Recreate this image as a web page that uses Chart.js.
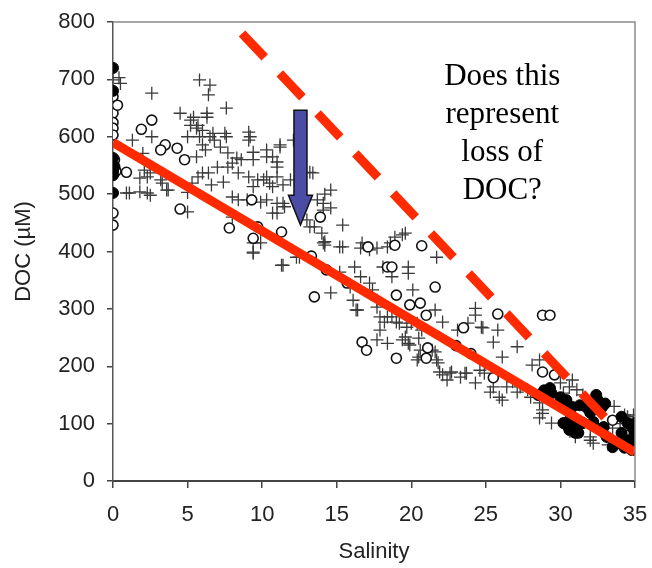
<!DOCTYPE html>
<html>
<head>
<meta charset="utf-8">
<script src="https://cdn.jsdelivr.net/npm/chart.js@4.4.1/dist/chart.umd.min.js"></script>
<style>
  html, body { margin: 0; padding: 0; background: #fff; }
  #wrap { width: 652px; height: 568px; }
</style>
</head>
<body>
<div id="wrap"><canvas id="chart" width="652" height="568"></canvas></div>
<script>
// salinity vs DOC samples: [salinity, DOC µM]
const crosses = [
  [0,699],[0.5,693],[0.4,703],[2.6,676],[4.5,641],[5.2,629],[1.3,594],[2.6,600],[2.1,542],[2.3,530],
  [3.3,519],[1.1,502],[2.5,498],[3.7,507],[5,503],[5,469],[1.8,528],
  [5.8,699],[6.5,690],[6.4,673],[7.6,650],[5.4,634],[6.3,634],[5.2,620],[5.7,620],[5.0,600],[5.8,600],
  [6.7,606],[7.6,600],[9.1,608],[9.1,594],[11.2,586],[12.1,594],[6.0,586],[7.2,582],[2.0,571],[2.5,537],
  [3.2,525],[3.6,507],[1.8,504],[0.9,502],[2.3,502],[5.3,519],[6.0,537],[7.0,547],[8.0,554],[9.4,560],
  [10.3,565],[11.0,547],[11.0,530],[11.9,525],[13.4,537],[9.4,513],[10.1,525],[10.7,513],[8.0,495],
  [9.0,490],[10.3,490],[11.4,484],[13.7,490],[11.0,467],[14.1,472],[13.2,443],[14.0,432],[9.9,437],
  [9.4,415],[9.4,397],[11.4,376],[12.5,390],[14.1,415],
  [6.3,641],[5.6,615],[6.0,611],[6.5,600],[6.8,594],[7.5,606],[9.2,600],[6.2,577],[7.7,572],[8.3,563],
  [8.6,560],[5.6,565],[9.4,573],[10.3,577],[11.2,582],[10.7,565],[11.0,556],[7.7,547],[8.4,537],[9.1,530],
  [9.7,525],[10.3,530],[10.5,519],[11.4,516],[5.7,530],[6.4,537],[6.6,516],[7.4,521],[8.4,490],[9.9,486],
  [11.0,484],[10.7,467],[11.5,478],[8.0,460],[9.9,415],[11.3,376],[9.4,399],
  [13.2,538],[14.6,507],[14.1,484],[14.6,476],[13.0,455],[13.5,443],[15.4,446],[14.2,417],[15.4,408],
  [16.7,415],[17.2,403],[12.3,390],[15.2,364],[16.6,356],[17.2,345],[15.9,338],[14.6,328],[16.4,298],
  [17.9,286],[17.7,315],[18.2,277],
  [14.2,500],[14.2,411],[15.2,408],[16.6,406],[17.7,406],[18.6,415],[19.4,429],[21.7,390],[16.2,373],
  [18.1,373],[19.8,373],
  [18.9,425],[19.6,432],[18.4,408],[19.8,362],[18.7,356],[20.1,333],[24.3,301],[21.6,298],[22.1,277],
  [18.7,286],[19.2,275],[20.0,275],[20.7,263],[19.6,251],[20.5,249],[21.4,228],[19.8,240],[21.8,206],
  [20.5,216],[22.7,190],[23.6,188],[22.1,185],[24.6,193],[24.3,171],[23.1,263],[23.8,275],[24.7,268],
  [16.1,315],[17.4,333],[16.3,298],[17.7,303],[18.4,286],[17.9,263],[19.0,277],[19.7,268],[20.4,275],
  [19.4,246],[19.9,237],[20.6,228],[21.6,225],[21.7,211],[20.4,211],[21.9,190],[22.6,188],[23.3,181],
  [22.4,176],[23.7,188],[17.7,246],[18.4,240],
  [24.8,267],[25.8,263],[25.5,242],[27.1,234],[26.1,216],[28.1,202],[24.9,188],[25.5,164],[26.4,164],
  [25.9,146],[25.3,155],[27.1,155],[28.0,146],[28.6,136],[28.8,118],[29.4,101],[28.6,110],[30.2,153],
  [30.6,164],[31.1,159],[26.8,173],[24.3,289],[28.6,211],[27.3,164],[27.8,159],[26.1,141],[28.8,124],
  [30.0,171],[30.8,176],
  [32.0,77],[32.2,66],[33.2,63],[34.9,115],[34.3,115],[33.5,92],[34.8,75],[31.0,77],[32.0,71],[33.1,77],
  [34.5,112],[35,94],[35,80],[34.6,88],[31.5,150],[32.2,140],[33.6,130],[34.0,100]
];

const openCircles = [
  [0,670],[0,641],[0,625],[0,615],[0,603],[0.1,560],[0,467],[0,446],[0.2,540],[0.9,538],[0.3,655],
  [1.9,613],[2.6,629],[3.5,586],[3.2,577],[4.3,580],[4.8,560],[4.5,474],[7.8,441],[9.3,490],[9.4,423],
  [9.7,443],[11.3,434],[13.9,460],[13.3,392],
  [17.1,408],[13.5,321],[14.3,368],[15.7,345],[18.4,373],
  [18.9,411],[20.7,410],[18.7,373],[21.6,338],
  [19.0,324],[19.9,307],[20.6,310],[21.0,289],[16.7,242],[17.0,228],[19.0,214],[21.1,232],[21.0,214],
  [23.5,267],[23.0,236],[24.0,222],[25.8,291],[25.5,180],[28.8,289],[29.3,289],[28.8,190],[29.6,185],
  [33.5,106]
];

const filledCircles = [
  [0,720],[0,680],[0,563],[0,540],[0,533],[0,502],[0.1,548],
  [29.4,153],[30.0,146],[30.4,136],[30.8,129],[30.2,101],[30.6,89],[31.1,106],[31.2,84],[29.3,162],
  [30.4,141],[31.3,132],[30.6,106],[30.4,98],[31.1,94],[31.5,101],[31.0,84],[32.5,141],[32.8,129],
  [32.0,119],[32.2,103],[32.9,94],[33.1,77],[31.8,127],[34.1,112],[34.5,101],[34.8,94],[34.1,84],
  [34.5,71],[34.9,68],[33.9,66],[34.3,58],[34.8,54],[33.5,59],[35,84],[35,101],[28.5,150],[28.9,158],
  [32.4,150],[33.0,135]
];

// observed mixing trend and the conservative (no-loss) line
const mixingLine = [[0, 590], [35, 50]];
const conservativeLine = [[8.65, 780], [33, 110]];

// downward arrow: salinity, top, start of head, tip (DOC)
const arrowSalinity = 12.57;
const arrowDoc = [646, 498, 446];

const question = ["Does this", "represent", "loss of", "DOC?"];
const questionAt = [26.1, 705];

const xTickValues = [0, 5, 10, 15, 20, 25, 30, 35];
const yTickValues = [0, 100, 200, 300, 400, 500, 600, 700, 800];

const toPts = arr => arr.map(([x, y]) => ({ x, y }));
const RED = '#ff2a00';
const axisFont = { family: "'Liberation Sans', Arial, sans-serif", size: 22 };

const annotations = {
  id: 'annotations',
  afterDraw(chart) {
    const { ctx, chartArea: a, scales: { x, y } } = chart;
    ctx.save();
    // grey frame on top and right
    ctx.strokeStyle = '#8a8a8a';
    ctx.lineWidth = 1.5;
    ctx.beginPath();
    ctx.moveTo(a.left, a.top);
    ctx.lineTo(a.right, a.top);
    ctx.lineTo(a.right, a.bottom);
    ctx.stroke();

    // blue arrow
    const cx = x.getPixelForValue(arrowSalinity);
    const top = y.getPixelForValue(arrowDoc[0]);
    const neck = y.getPixelForValue(arrowDoc[1]);
    const tip = y.getPixelForValue(arrowDoc[2]);
    ctx.beginPath();
    ctx.moveTo(cx - 6.5, top);
    ctx.lineTo(cx + 6.5, top);
    ctx.lineTo(cx + 6.5, neck);
    ctx.lineTo(cx + 12, neck);
    ctx.lineTo(cx, tip);
    ctx.lineTo(cx - 12, neck);
    ctx.lineTo(cx - 6.5, neck);
    ctx.closePath();
    ctx.fillStyle = '#4a4ca6';
    ctx.fill();
    ctx.strokeStyle = '#111';
    ctx.lineWidth = 1.5;
    ctx.stroke();

    // question text
    ctx.fillStyle = '#000';
    ctx.font = "31px 'Liberation Serif', 'Times New Roman', serif";
    ctx.textAlign = 'center';
    ctx.textBaseline = 'middle';
    const tx = x.getPixelForValue(questionAt[0]);
    const ty = y.getPixelForValue(questionAt[1]);
    question.forEach((line, i) => ctx.fillText(line, tx, ty + i * 38));
    ctx.restore();
  }
};

new Chart(document.getElementById('chart'), {
  type: 'scatter',
  data: {
    datasets: [
      {
        data: toPts(mixingLine),
        showLine: true,
        borderColor: RED,
        borderWidth: 9,
        pointRadius: 0,
        borderCapStyle: 'butt',
        order: 0
      },
      {
        data: toPts(conservativeLine),
        showLine: true,
        borderColor: RED,
        borderWidth: 9,
        borderDash: [33, 22],
        pointRadius: 0,
        borderCapStyle: 'butt',
        order: 1
      },
      {
        data: toPts(filledCircles),
        pointStyle: 'circle',
        pointRadius: 5.5,
        backgroundColor: '#000',
        borderColor: '#000',
        borderWidth: 1,
        order: 2
      },
      {
        data: toPts(openCircles),
        pointStyle: 'circle',
        pointRadius: 5,
        backgroundColor: '#fff',
        borderColor: '#111',
        borderWidth: 1.6,
        order: 3
      },
      {
        data: toPts(crosses),
        pointStyle: 'cross',
        pointRadius: 6.5,
        borderColor: '#3a3a3a',
        borderWidth: 1.3,
        order: 4
      }
    ]
  },
  options: {
    responsive: false,
    animation: false,
    devicePixelRatio: 1,
    layout: { padding: { left: 0, top: 22, right: 17, bottom: 0 } },
    plugins: { legend: { display: false }, tooltip: { enabled: false } },
    scales: {
      x: {
        type: 'linear',
        min: 0,
        max: 35,
        afterBuildTicks: s => { s.ticks = xTickValues.map(v => ({ value: v })); },
        afterFit: s => { s.height = 87; s.paddingLeft = 0; s.paddingRight = 0; },
        ticks: { font: axisFont, color: '#222', padding: 14 },
        grid: { drawOnChartArea: false, tickLength: 7, color: '#444', lineWidth: 1.5 },
        border: { color: '#444', width: 2 },
        title: { display: true, text: 'Salinity', font: axisFont, color: '#222', padding: { top: 3, bottom: 3 } }
      },
      y: {
        type: 'linear',
        min: 0,
        max: 800,
        afterBuildTicks: s => { s.ticks = yTickValues.map(v => ({ value: v })); },
        afterFit: s => { s.width = 113; s.paddingTop = 0; s.paddingBottom = 0; },
        ticks: { font: axisFont, color: '#222', padding: 12 },
        grid: { drawOnChartArea: false, tickLength: 6, color: '#444', lineWidth: 1.5 },
        border: { color: '#555', width: 1.5 },
        title: { display: true, text: 'DOC (µM)', font: axisFont, color: '#222', padding: { top: 11, bottom: 0 } }
      }
    }
  },
  plugins: [annotations]
});
</script>
</body>
</html>
